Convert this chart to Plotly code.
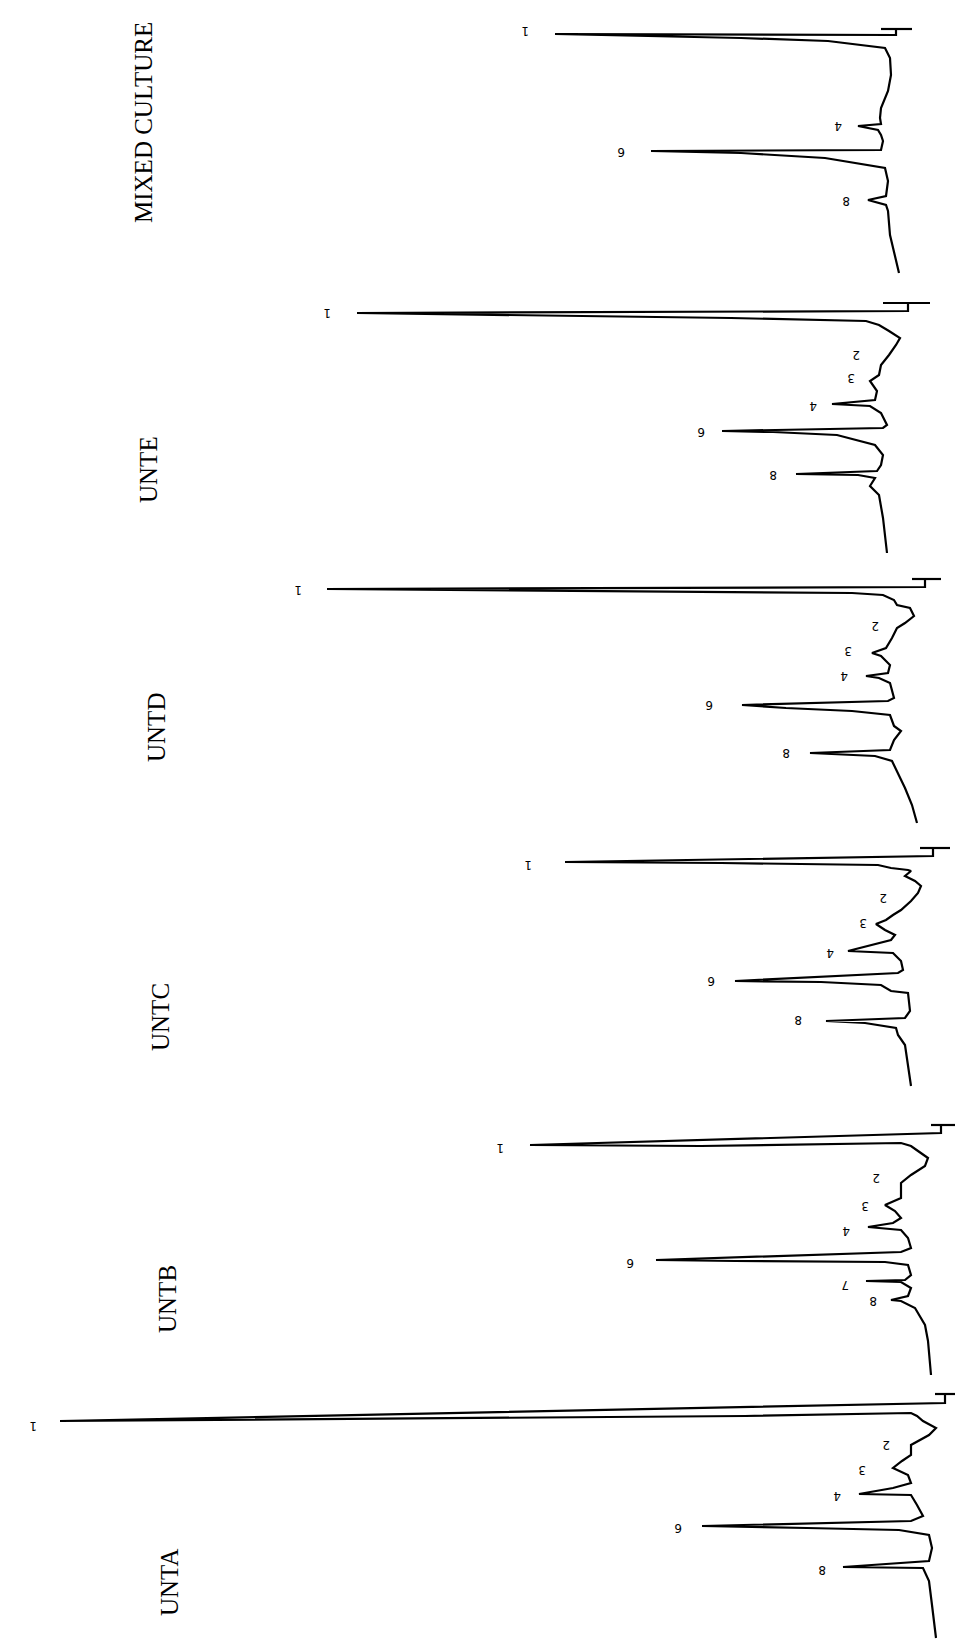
import plotly.graph_objects as go

# ---------------- data ----------------
# signal: detector response (arbitrary units, larger = further left on the chart)
# time: retention position within each chromatogram strip (arbitrary units, downward)
PANELS = ["MIXED CULTURE", "UNTE", "UNTD", "UNTC", "UNTB", "UNTA"]

MIXED_TIME = [21, 21, None, 21, 27, 26, 30, 33, 40, 50, 67, 83, 100, 110, 116, 118, 122, 127, 133, 142,
              143, 145, 150, 160, 173, 188, 192, 197, 203, 227, 250, 265]
MIXED_SIGNAL = [87, 56, None, 72, 72, 413, 227, 140, 83, 78, 77, 80, 87, 88, 87, 110, 90, 87, 85, 87,
                317, 227, 143, 83, 80, 82, 100, 82, 80, 78, 73, 69]

UNTE_TIME = [20, 20, None, 20, 28, 30, 33, 35, 38, 42, 48, 55, 62, 72, 82, 92, 98, 108, 117, 121, 123,
             130, 142, 145, 148, 149, 152, 162, 172, 182, 188, 191, 192, 195, 203, 212, 235, 270]
UNTE_SIGNAL = [85, 38, None, 60, 60, 611, 406, 237, 102, 89, 79, 68, 72, 79, 87, 89, 98, 91, 93, 136, 98,
               87, 81, 85, 246, 195, 131, 93, 85, 87, 91, 172, 110, 93, 98, 89, 85, 81]

UNTD_TIME = [21, 21, None, 21, 29, 31, 33, 35, 37, 42, 47, 50, 58, 65, 70, 80, 90, 95, 98, 107, 115, 118,
             120, 125, 140, 143, 147, 150, 153, 157, 168, 173, 182, 192, 195, 198, 203, 213, 230, 247, 265]
UNTD_SIGNAL = [56, 27, None, 43, 43, 641, 337, 116, 85, 74, 71, 58, 54, 63, 71, 76, 82, 96, 87, 78, 80, 102,
               89, 78, 74, 80, 226, 182, 116, 78, 74, 67, 74, 78, 158, 93, 76, 71, 63, 56, 51]

UNTC_TIME = [15, 15, None, 15, 23, 29, 30, 32, 35, 37, 38, 43, 48, 53, 60, 68, 77, 82, 87, 91, 97, 102, 107,
             118, 120, 128, 137, 140, 148, 149, 152, 158, 160, 178, 185, 188, 190, 195, 202, 212, 232, 253]
UNTC_SIGNAL = [48, 18, None, 35, 35, 403, 247, 90, 77, 60, 57, 63, 53, 47, 50, 57, 67, 75, 82, 92, 83, 73, 77,
               120, 75, 67, 65, 70, 233, 147, 87, 77, 60, 58, 63, 142, 103, 72, 70, 63, 60, 57]

UNTB_TIME = [17, 17, None, 17, 25, 37, 38, 35, 38, 43, 50, 58, 67, 75, 90, 97, 103, 110, 115, 119, 122, 130,
             140, 144, 152, 153, 154, 157, 167, 172, 173, 174, 180, 188, 192, 193, 200, 217, 233, 267]
UNTB_SIGNAL = [37, 10, None, 27, 27, 438, 267, 67, 57, 50, 40, 43, 57, 67, 67, 83, 73, 67, 75, 100, 67, 60,
               57, 67, 312, 233, 83, 60, 57, 63, 102, 67, 57, 60, 77, 67, 53, 43, 40, 37]

UNTA_TIME = [11, 11, None, 11, 20, 38, 35, 33, 30, 33, 38, 45, 52, 62, 72, 78, 85, 92, 100, 105, 111, 112,
             122, 133, 138, 143, 145, 147, 152, 165, 178, 184, 185, 198, 222, 255]
UNTA_SIGNAL = [33, 5, None, 23, 23, 908, 469, 223, 57, 51, 45, 32, 39, 57, 57, 66, 75, 60, 57, 75, 109, 57,
               51, 45, 57, 266, 161, 69, 39, 36, 39, 125, 45, 39, 36, 32]

# peak numbers written next to each peak
MIXED_PEAKS = ["1", "4", "6", "8"]
MIXED_PEAK_TIME = [23, 118, 144, 193]
MIXED_PEAK_SIGNAL = [443, 130, 347, 122]

UNTE_PEAKS = ["1", "2", "3", "4", "6", "8"]
UNTE_PEAK_TIME = [30, 72, 95, 123, 149, 192]
UNTE_PEAK_SIGNAL = [641, 112, 117, 155, 267, 195]

UNTD_PEAKS = ["1", "2", "3", "4", "6", "8"]
UNTD_PEAK_TIME = [32, 68, 93, 118, 147, 195]
UNTD_PEAK_SIGNAL = [670, 93, 120, 124, 259, 182]

UNTC_PEAKS = ["1", "2", "3", "4", "6", "8"]
UNTC_PEAK_TIME = [32, 65, 90, 120, 148, 187]
UNTC_PEAK_SIGNAL = [440, 85, 105, 138, 257, 170]

UNTB_PEAKS = ["1", "2", "3", "4", "6", "7", "8"]
UNTB_PEAK_TIME = [40, 70, 98, 123, 155, 177, 193]
UNTB_PEAK_SIGNAL = [468, 92, 103, 122, 338, 123, 95]

UNTA_PEAKS = ["1", "2", "3", "4", "6", "8"]
UNTA_PEAK_TIME = [43, 62, 87, 113, 145, 187]
UNTA_PEAK_SIGNAL = [935, 82, 106, 131, 290, 146]

# sample name placement (signal, time) inside each strip
NAME_SIGNAL = [825, 819, 811, 808, 801, 799]
NAME_TIME = [115, 187, 170, 184, 191, 200]

# ---------------- layout of the strips ----------------
W, H = 963, 1649
STRIP_TOP = [0, 275, 550, 825, 1100, 1375]
STRIP_H = [275, 275, 275, 275, 275, 274]

traces = [
    (MIXED_TIME, MIXED_SIGNAL, MIXED_PEAKS, MIXED_PEAK_TIME, MIXED_PEAK_SIGNAL),
    (UNTE_TIME, UNTE_SIGNAL, UNTE_PEAKS, UNTE_PEAK_TIME, UNTE_PEAK_SIGNAL),
    (UNTD_TIME, UNTD_SIGNAL, UNTD_PEAKS, UNTD_PEAK_TIME, UNTD_PEAK_SIGNAL),
    (UNTC_TIME, UNTC_SIGNAL, UNTC_PEAKS, UNTC_PEAK_TIME, UNTC_PEAK_SIGNAL),
    (UNTB_TIME, UNTB_SIGNAL, UNTB_PEAKS, UNTB_PEAK_TIME, UNTB_PEAK_SIGNAL),
    (UNTA_TIME, UNTA_SIGNAL, UNTA_PEAKS, UNTA_PEAK_TIME, UNTA_PEAK_SIGNAL),
]

fig = go.Figure()
annotations = []
layout_axes = {}

for i, (t, s, pk, pkt, pks) in enumerate(traces):
    n = i + 1
    yname = "y" if n == 1 else f"y{n}"
    yax = "yaxis" if n == 1 else f"yaxis{n}"
    fig.add_trace(go.Scatter(
        x=s, y=t, xaxis="x", yaxis=yname, mode="lines",
        line=dict(color="black", width=2.2), hoverinfo="skip", showlegend=False,
    ))
    top, h = STRIP_TOP[i], STRIP_H[i]
    layout_axes[yax] = dict(
        domain=[1 - (top + h) / H, 1 - top / H], range=[h, 0],
        visible=False, anchor="x", fixedrange=True,
    )
    for lab, tt, ss in zip(pk, pkt, pks):
        annotations.append(dict(
            x=ss, y=tt, xref="x", yref=yname, text=lab, showarrow=False,
            textangle=180, xanchor="center", yanchor="middle",
            font=dict(family="DejaVu Sans", size=12, color="black"),
        ))
    annotations.append(dict(
        x=NAME_SIGNAL[i], y=NAME_TIME[i], xref="x", yref=yname, text=PANELS[i],
        showarrow=False, textangle=-90, xanchor="center", yanchor="middle",
        font=dict(family="Liberation Serif", size=25, color="black"),
    ))

fig.update_layout(
    width=W, height=H,
    margin=dict(l=0, r=0, t=0, b=0),
    paper_bgcolor="white", plot_bgcolor="white",
    xaxis=dict(range=[960, -3], domain=[0, 1], visible=False, fixedrange=True),
    annotations=annotations,
    showlegend=False,
    **layout_axes,
)

fig.write_html("out.html")
